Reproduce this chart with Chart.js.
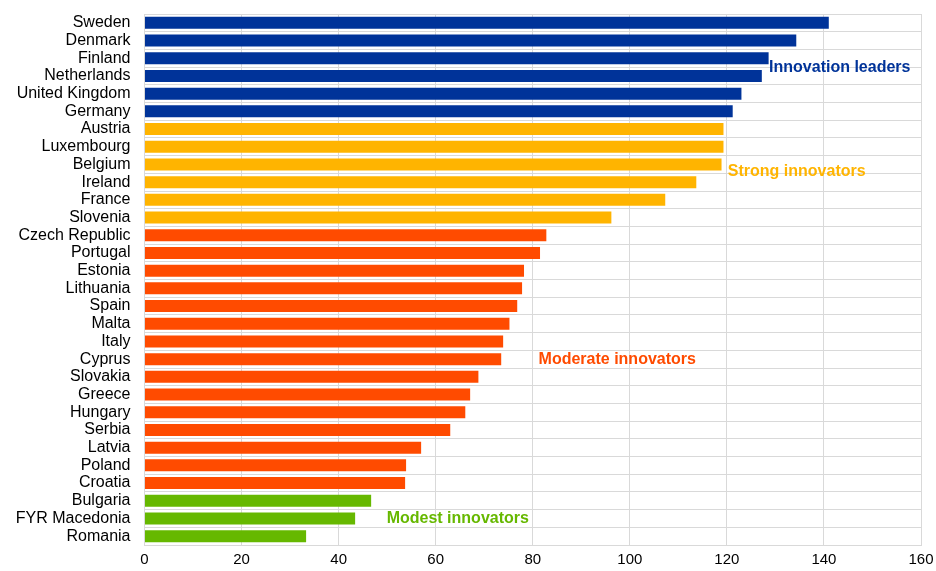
<!DOCTYPE html>
<html>
<head>
<meta charset="utf-8">
<script src="https://cdn.jsdelivr.net/npm/chart.js@4/dist/chart.umd.min.js"></script>
<style>
html,body{margin:0;padding:0;background:#fff;}
#wrap{width:936px;height:571px;position:relative;}
</style>
</head>
<body>
<div id="wrap"><canvas id="c" width="936" height="571"></canvas></div>
<script>
const countries = ["Sweden","Denmark","Finland","Netherlands","United Kingdom","Germany","Austria","Luxembourg","Belgium","Ireland","France","Slovenia","Czech Republic","Portugal","Estonia","Lithuania","Spain","Malta","Italy","Cyprus","Slovakia","Greece","Hungary","Serbia","Latvia","Poland","Croatia","Bulgaria","FYR Macedonia","Romania"];
const scores = [141.0,134.3,128.6,127.2,123.0,121.2,119.3,119.3,118.9,113.7,107.3,96.2,82.8,81.5,78.2,77.8,76.8,75.2,73.9,73.5,68.8,67.1,66.1,63.0,57.0,53.9,53.7,46.7,43.4,33.3];
const groups = ["leader","leader","leader","leader","leader","leader","strong","strong","strong","strong","strong","strong","moderate","moderate","moderate","moderate","moderate","moderate","moderate","moderate","moderate","moderate","moderate","moderate","moderate","moderate","moderate","modest","modest","modest"];
const xTicks = [0,20,40,60,80,100,120,140,160];
const groupNames = ["Innovation leaders","Strong innovators","Moderate innovators","Modest innovators"];
const groupKeys = ["leader","strong","moderate","modest"];

const groupColors = {leader:"#003399", strong:"#FFB400", moderate:"#FF4B00", modest:"#66B800"};
// label anchors: [x value, category index position]
const labelAnchors = [[128.7,2.5],[120.2,8.4],[81.2,19.0],[49.9,28.0]];

const labelPlugin = {
  id:'groupLabels',
  afterDatasetsDraw(chart){
    const ctx = chart.ctx, xs = chart.scales.x, ys = chart.scales.y;
    ctx.save();
    ctx.font = 'bold 16px "Liberation Sans", Arial, sans-serif';
    ctx.textBaseline = 'middle';
    ctx.textAlign = 'left';
    groupNames.forEach((n,i)=>{
      const a = labelAnchors[i];
      const y0 = ys.getPixelForValue(Math.floor(a[1]));
      const y1 = ys.getPixelForValue(Math.floor(a[1])+1);
      const y = y0 + (y1-y0)*(a[1]-Math.floor(a[1]));
      ctx.fillStyle = groupColors[groupKeys[i]];
      ctx.fillText(n, xs.getPixelForValue(a[0]), y);
    });
    ctx.restore();
  }
};

new Chart(document.getElementById('c'), {
  type:'bar',
  data:{
    labels: countries,
    datasets:[{
      data: scores,
      backgroundColor: groups.map(g=>groupColors[g]),
      borderWidth:0,
      barPercentage:0.68,
      categoryPercentage:1.0
    }]
  },
  options:{
    indexAxis:'y',
    responsive:false,
    animation:false,
    devicePixelRatio:1,
    layout:{padding:{left:0,top:14,right:15,bottom:0}},
    plugins:{legend:{display:false},tooltip:{enabled:false}},
    scales:{
      x:{
        min:0,max:160,
        afterBuildTicks(s){ s.ticks = xTicks.map(v=>({value:v})); },
        afterFit(s){ s.height = 26; s.paddingLeft = 0; s.paddingRight = 0; },
        grid:{color:'#d9d9d9',lineWidth:1,drawTicks:false},
        border:{color:'#d9d9d9'},
        ticks:{color:'#000',font:{family:'"Liberation Sans", Arial, sans-serif',size:15},padding:6}
      },
      y:{
        afterFit(s){ s.width = 144.5; s.paddingTop = 0; s.paddingBottom = 0; },
        grid:{color:'#d9d9d9',lineWidth:1,offset:true,drawTicks:false},
        border:{color:'#d9d9d9'},
        ticks:{color:'#000',font:{family:'"Liberation Sans", Arial, sans-serif',size:16},padding:14,autoSkip:false}
      }
    }
  },
  plugins:[labelPlugin]
});
</script>
</body>
</html>
